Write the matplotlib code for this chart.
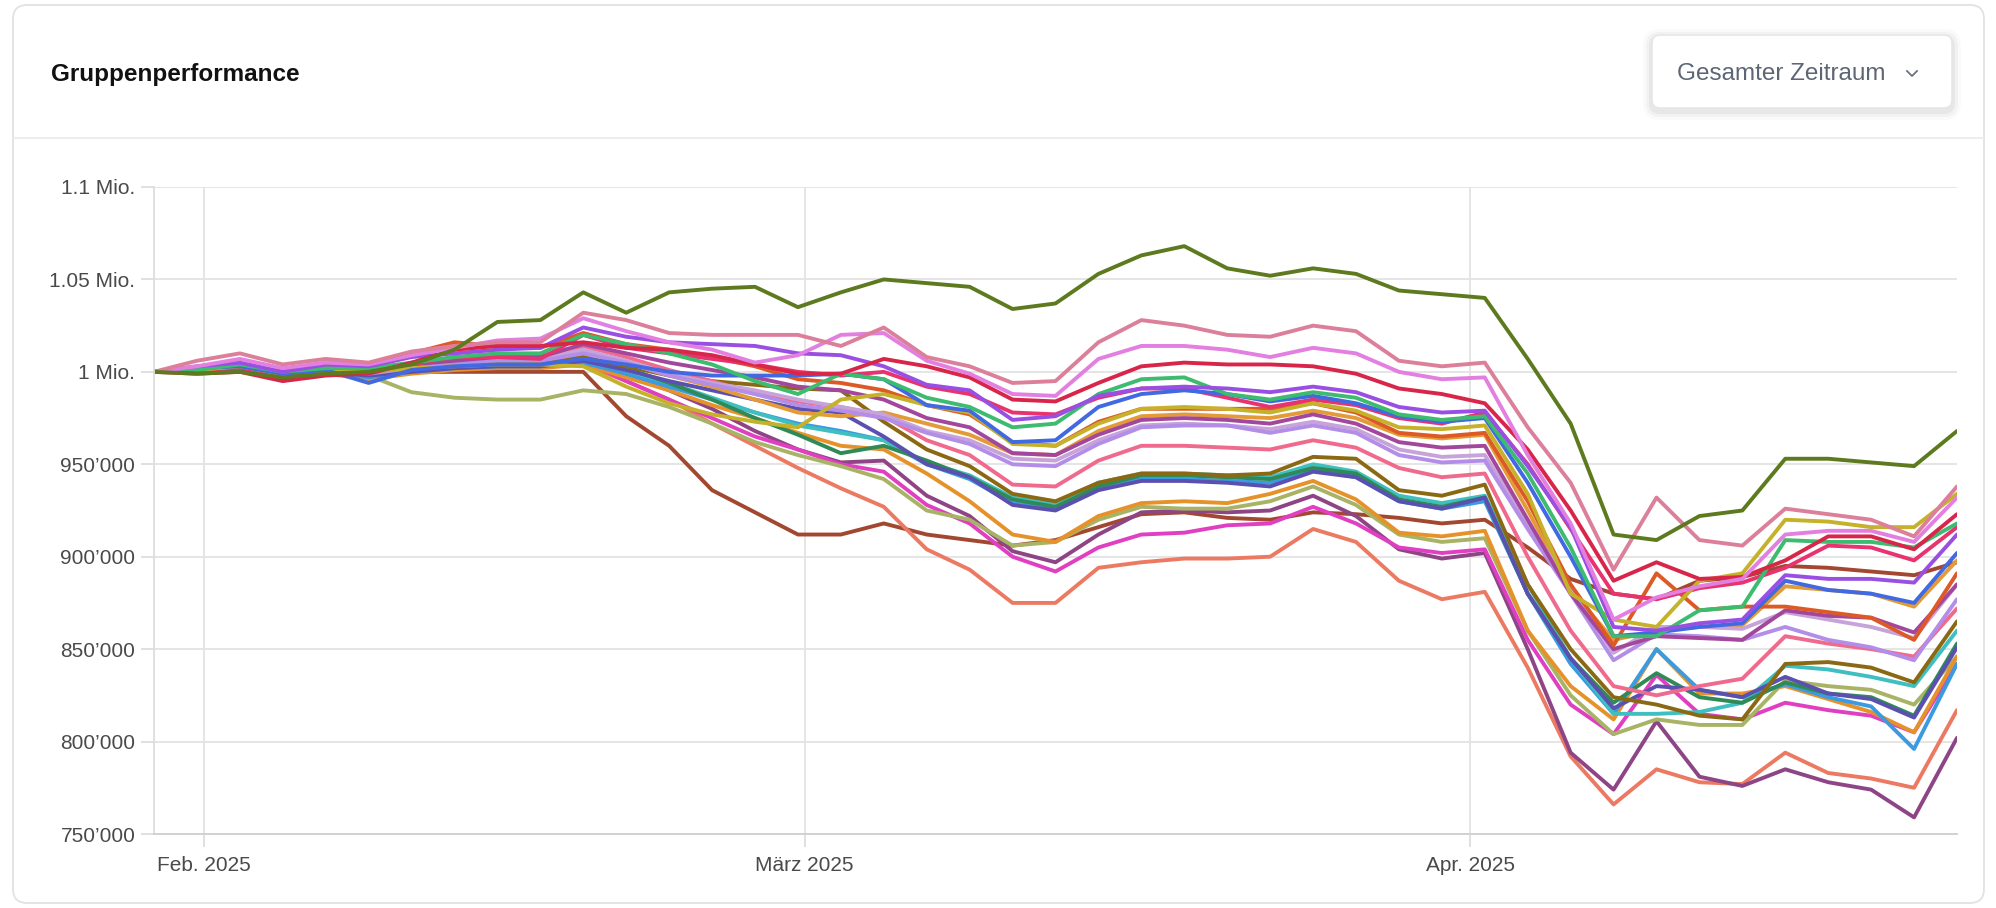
import numpy as np
import pandas as pd
import matplotlib
matplotlib.use("Agg")
import matplotlib.pyplot as plt
import matplotlib.dates as mdates
from matplotlib.patches import FancyBboxPatch
from matplotlib.lines import Line2D
from matplotlib.transforms import IdentityTransform
from matplotlib.ticker import FuncFormatter

plt.rcParams['font.family'] = ['Liberation Sans', 'DejaVu Sans']

# Data points every second day (values in thousands)
dates = pd.date_range("2025-01-29 16:30", periods=43, freq="2D")

olive = [1000, 999, 1000, 997, 999, 1000, 1004, 1012, 1027, 1028,
         1043, 1032, 1043, 1045, 1046, 1035, 1043, 1050, 1048, 1046,
         1034, 1037, 1053, 1063, 1068, 1056, 1052, 1056, 1053, 1044,
         1042, 1040, 1007, 972, 912, 909, 922, 925, 953, 953,
         951, 949, 968]
rose = [1000, 1006, 1010, 1004, 1007, 1005, 1011, 1014, 1016, 1016,
        1032, 1028, 1021, 1020, 1020, 1020, 1014, 1024, 1008, 1003,
        994, 995, 1016, 1028, 1025, 1020, 1019, 1025, 1022, 1006,
        1003, 1005, 970, 940, 893, 932, 909, 906, 926, 923,
        920, 911, 938]
orchid = [1000, 1003, 1007, 1002, 1005, 1004, 1009, 1013, 1017, 1018,
          1029, 1022, 1016, 1012, 1005, 1009, 1020, 1021, 1006, 999,
          988, 987, 1007, 1014, 1014, 1012, 1008, 1013, 1010, 1000,
          996, 997, 955, 918, 866, 878, 884, 888, 912, 914,
          914, 908, 932]
crimson = [1000, 999, 1000, 995, 998, 999, 1005, 1012, 1014, 1014,
           1016, 1013, 1012, 1009, 1004, 999, 999, 1007, 1003, 997,
           985, 984, 994, 1003, 1005, 1004, 1004, 1003, 999, 991,
           988, 983, 958, 925, 887, 897, 888, 889, 898, 911,
           911, 904, 923]
purple = [1000, 1003, 1005, 1000, 1004, 1003, 1008, 1010, 1012, 1013,
          1024, 1019, 1016, 1015, 1014, 1010, 1009, 1003, 993, 990,
          974, 976, 987, 991, 992, 991, 989, 992, 989, 981,
          978, 979, 949, 916, 862, 860, 864, 866, 890, 888,
          888, 886, 912]
seagreen = [1000, 1001, 1004, 1000, 1002, 1002, 1005, 1008, 1010, 1010,
            1020, 1015, 1010, 1004, 995, 988, 999, 996, 986, 981,
            970, 972, 988, 996, 997, 988, 985, 989, 986, 977,
            974, 976, 945, 905, 857, 857, 871, 873, 909, 908,
            908, 905, 918]
royalblue = [1000, 1002, 1003, 999, 1001, 994, 1001, 1003, 1004, 1004,
             1007, 1004, 1000, 998, 998, 998, 999, 996, 982, 979,
             962, 963, 981, 988, 990, 988, 984, 987, 983, 976,
             973, 975, 940, 900, 857, 859, 862, 864, 887, 882,
             880, 875, 902]
gold = [1000, 1001, 1003, 999, 1001, 1000, 1002, 1003, 1004, 1004,
        1003, 992, 983, 977, 973, 970, 985, 988, 982, 978,
        961, 960, 972, 980, 981, 980, 978, 983, 979, 970,
        969, 971, 934, 880, 866, 862, 887, 891, 920, 919,
        916, 916, 934]
deeppink = [1000, 1001, 1002, 996, 999, 1000, 1004, 1008, 1008, 1007,
            1020, 1013, 1010, 1007, 1004, 1000, 998, 1000, 992, 988,
            978, 977, 986, 991, 991, 986, 981, 985, 982, 975,
            972, 978, 950, 915, 880, 877, 883, 886, 894, 906,
            905, 898, 916]
orangered = [1000, 1002, 1004, 1000, 1003, 1004, 1010, 1016, 1014, 1013,
             1021, 1015, 1012, 1008, 1003, 996, 994, 990, 982, 977,
             962, 960, 973, 980, 980, 980, 980, 983, 978, 967,
             965, 967, 930, 885, 852, 891, 871, 873, 873, 870,
             867, 855, 891]
plumpurple = [1000, 1001, 1003, 999, 1001, 1001, 1004, 1006, 1008, 1008,
              1015, 1010, 1005, 1001, 997, 992, 990, 985, 975, 970,
              956, 955, 966, 974, 975, 974, 972, 977, 972, 962,
              959, 960, 920, 880, 850, 857, 856, 855, 871, 868,
              867, 859, 885]
lavender = [1000, 1001, 1002, 998, 1000, 999, 1002, 1004, 1006, 1006,
            1010, 1005, 998, 993, 988, 982, 979, 975, 967, 961,
            950, 949, 961, 970, 971, 971, 967, 971, 967, 955,
            951, 952, 915, 880, 844, 858, 857, 855, 862, 855,
            851, 844, 877]
lilac = [1000, 1001, 1003, 999, 1001, 1000, 1003, 1005, 1007, 1007,
         1012, 1006, 999, 994, 990, 985, 981, 977, 968, 963,
         953, 952, 963, 971, 972, 971, 969, 973, 969, 958,
         954, 955, 918, 884, 848, 862, 862, 861, 870, 866,
         862, 856, 885]
pink = [1000, 1001, 1003, 999, 1001, 1001, 1004, 1006, 1008, 1009,
        1014, 1008, 1001, 995, 988, 984, 981, 976, 963, 955,
        939, 938, 952, 960, 960, 959, 958, 963, 959, 948,
        943, 945, 900, 860, 830, 825, 830, 834, 857, 853,
        850, 846, 872]
sandy = [1000, 1001, 1003, 998, 1001, 1000, 1003, 1006, 1008, 1008,
         1012, 1005, 998, 992, 985, 978, 976, 978, 972, 966,
         956, 955, 968, 976, 977, 976, 975, 979, 975, 966,
         964, 966, 925, 882, 855, 860, 862, 863, 884, 882,
         880, 873, 898]
brown = [1000, 1000, 1002, 999, 1000, 1000, 1002, 1004, 1005, 1005,
         1008, 1003, 998, 995, 993, 991, 990, 973, 958, 949,
         934, 930, 940, 945, 945, 944, 945, 954, 953, 936,
         933, 939, 885, 850, 824, 820, 814, 812, 842, 843,
         840, 832, 865]
slate = [1000, 1001, 1002, 998, 1000, 998, 1000, 1002, 1003, 1003,
         1006, 1001, 995, 990, 985, 980, 978, 965, 950, 943,
         928, 925, 936, 941, 941, 940, 938, 946, 943, 930,
         926, 932, 880, 845, 818, 830, 828, 824, 835, 826,
         823, 813, 851]
darkgreen = [1000, 1001, 1002, 998, 1000, 999, 1001, 1003, 1004, 1004,
             1008, 1002, 994, 985, 975, 966, 956, 960, 952, 943,
             931, 927, 938, 944, 944, 943, 942, 948, 945, 931,
             927, 932, 880, 845, 821, 837, 824, 821, 832, 826,
             824, 814, 853]
teal = [1000, 1001, 1002, 998, 1000, 999, 1001, 1003, 1004, 1004,
        1007, 1001, 994, 986, 978, 971, 967, 963, 951, 944,
        932, 929, 940, 945, 945, 944, 943, 950, 946, 933,
        929, 933, 885, 845, 815, 815, 816, 821, 841, 839,
        835, 830, 860]
skyblue = [1000, 1001, 1002, 998, 1000, 997, 1000, 1002, 1003, 1003,
           1005, 999, 992, 985, 978, 972, 968, 963, 950, 942,
           929, 926, 937, 942, 942, 941, 940, 947, 943, 930,
           926, 930, 880, 842, 815, 850, 828, 824, 831, 824,
           819, 796, 842]
orange = [1000, 1000, 1002, 997, 999, 996, 999, 1001, 1002, 1002,
          1004, 997, 990, 982, 975, 967, 960, 958, 945, 930,
          912, 908, 922, 929, 930, 929, 934, 941, 931, 913,
          911, 914, 860, 830, 812, 850, 826, 826, 830, 823,
          816, 805, 846]
khaki = [1000, 1000, 1002, 999, 1000, 998, 989, 986, 985, 985,
         990, 988, 981, 972, 962, 955, 949, 942, 925, 920,
         906, 908, 920, 927, 926, 926, 930, 938, 928, 912,
         908, 910, 860, 825, 804, 812, 809, 809, 833, 830,
         828, 820, 846]
magenta = [1000, 1001, 1002, 997, 1000, 999, 1001, 1002, 1003, 1004,
           1006, 995, 985, 975, 965, 958, 950, 946, 928, 918,
           900, 892, 905, 912, 913, 917, 918, 927, 918, 905,
           902, 904, 855, 820, 804, 836, 815, 812, 821, 817,
           814, 805, 842]
darkplum = [1000, 1001, 1002, 997, 1000, 999, 1001, 1002, 1003, 1004,
            1006, 998, 990, 980, 968, 958, 951, 952, 933, 922,
            903, 897, 912, 924, 925, 924, 925, 933, 922, 904,
            899, 902, 850, 794, 774, 811, 781, 776, 785, 778,
            774, 759, 802]
salmon = [1000, 1001, 1002, 998, 1000, 999, 1001, 1002, 1003, 1003,
          1004, 995, 985, 972, 960, 948, 937, 927, 904, 893,
          875, 875, 894, 897, 899, 899, 900, 915, 908, 887,
          877, 881, 840, 792, 766, 785, 778, 777, 794, 783,
          780, 775, 817]
sienna = [1000, 1000, 1000, 1000, 1000, 1000, 1000, 1000, 1000, 1000,
          1000, 976, 960, 936, 924, 912, 912, 918, 912, 909,
          906, 909, 916, 923, 924, 921, 920, 924, 923, 921,
          918, 920, 905, 888, 880, 877, 887, 889, 895, 894,
          892, 890, 897]

series = [
    (sienna, "#a34830"), (salmon, "#ec7a62"), (darkplum, "#8e4585"),
    (magenta, "#e03fc2"), (khaki, "#a8b365"), (orange, "#e5922a"),
    (skyblue, "#3a9be0"), (teal, "#3fbfbf"), (darkgreen, "#2f8a57"),
    (slate, "#5b50b0"), (brown, "#8b6914"), (sandy, "#e39b37"),
    (pink, "#ef6a8c"), (lilac, "#c7a3da"), (lavender, "#b38ee8"),
    (plumpurple, "#a3479c"), (orangered, "#dd5a26"), (deeppink, "#e8336f"),
    (gold, "#c6b22a"), (royalblue, "#4169e1"), (seagreen, "#3dbb6e"),
    (purple, "#9a4fe3"), (crimson, "#d8264a"), (orchid, "#e27fe0"),
    (rose, "#dc7f9b"), (olive, "#5d7a1f"),
]

month_names = {2: "Feb. 2025", 3: "März 2025", 4: "Apr. 2025"}

W, H = 1996, 908
fig = plt.figure(figsize=(W / 100, H / 100), dpi=100)
fig.patch.set_facecolor("white")

# card (pixel coordinates, origin bottom left)
px = IdentityTransform()
card = FancyBboxPatch((13, 5), 1971, 898, boxstyle="round,pad=0,rounding_size=14",
                      facecolor="white", edgecolor="#e2e2e2", linewidth=1.3,
                      transform=px, zorder=-10)
fig.add_artist(card)
fig.add_artist(Line2D([14, 1983], [H - 138, H - 138], color="#ececec", lw=1.3,
                      transform=px, zorder=-9))

# title
fig.text(51, H - 75, "Gruppenperformance", transform=px, fontsize=17.5, fontweight="bold",
         color="#111111", va="center", ha="left")

# dropdown with soft shadow
for k, a in [(9, 0.02), (6, 0.03), (3, 0.045)]:
    fig.add_artist(FancyBboxPatch((1652 - k, H - 108 - k - 3), 300 + 2 * k, 73 + 2 * k,
                                  boxstyle="round,pad=0,rounding_size=%d" % (8 + k),
                                  facecolor="#000000", alpha=a, edgecolor="none", transform=px))
fig.add_artist(FancyBboxPatch((1652, H - 108), 300, 73, boxstyle="round,pad=0,rounding_size=8",
                              facecolor="white", edgecolor="#e4e6ea", linewidth=1.2, transform=px))
fig.text(1677, H - 74, "Gesamter Zeitraum", transform=px, fontsize=17.5, color="#5d6675",
         va="center", ha="left")
fig.add_artist(Line2D([1907, 1912, 1917], [H - 71, H - 76, H - 71], color="#6b7280",
                      lw=1.3, transform=px))

# chart
ax = fig.add_axes([154 / W, 1 - 834 / H, (1957 - 154) / W, (834 - 187) / H])
ax.set_zorder(5)
ax.patch.set_alpha(0)
for vals, col in series:
    ax.plot(dates, np.array(vals) * 1000, color=col, lw=2.8, solid_joinstyle="round",
            solid_capstyle="round")

ax.set_xlim(dates[0], dates[-1])
ax.set_ylim(750000, 1100000)
ax.set_yticks(np.arange(750000, 1100001, 50000))


def yfmt(v, pos):
    if v >= 1e6:
        return "%g Mio." % (v / 1e6)
    return "{:,.0f}".format(v).replace(",", "\u2019")


ax.yaxis.set_major_formatter(FuncFormatter(yfmt))
ax.xaxis.set_major_locator(mdates.MonthLocator())
ax.xaxis.set_major_formatter(FuncFormatter(lambda v, pos: month_names.get(mdates.num2date(v).month, "")))

ax.grid(True, color="#e3e3e3", lw=1.3)
ax.set_axisbelow(True)
for s in ["top", "right"]:
    ax.spines[s].set_visible(False)
ax.spines["left"].set_color("#dddddd")
ax.spines["bottom"].set_color("#cfcfcf")
ax.spines["left"].set_linewidth(1.3)
ax.spines["bottom"].set_linewidth(1.3)
ax.tick_params(axis="both", length=9.5, width=1.3, color="#dddddd", labelsize=15,
               labelcolor="#4a4a4a")
ax.tick_params(axis="y", pad=4)
ax.tick_params(axis="x", pad=6)

fig.savefig("out.png", dpi=100, facecolor="white")
